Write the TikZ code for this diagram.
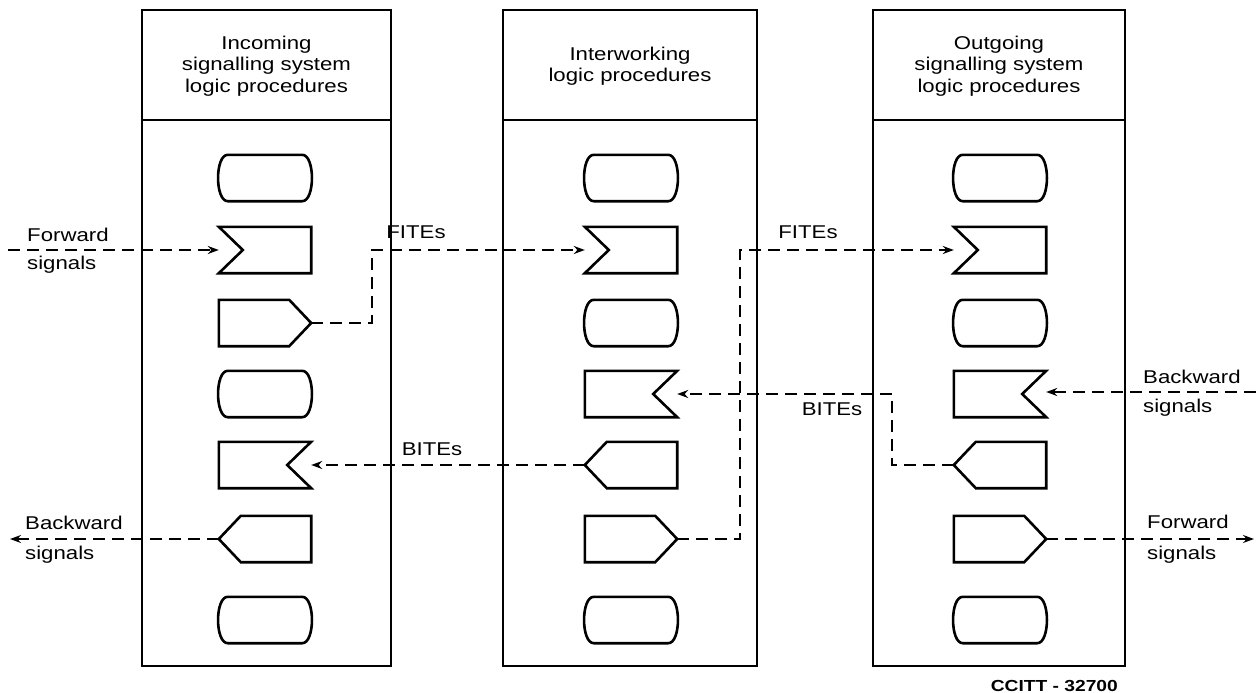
\documentclass[tikz,border=0pt]{standalone}
\usepackage{fontspec}
\newfontfamily\labfont[FakeStretch=1.2]{Liberation Sans}
\usetikzlibrary{arrows.meta}
\newcommand\termsh[1]{\draw[outline] ([xshift=9]#1.north west) -- ([xshift=-9]#1.north east) .. controls ([xshift=4]#1.north east) and ([xshift=4]#1.south east) .. ([xshift=-9]#1.south east) -- ([xshift=9]#1.south west) .. controls ([xshift=-4]#1.south west) and ([xshift=-4]#1.north west) .. cycle;}
\newcommand\rcvL[1]{\draw[outline] (#1.north west) -- (#1.north east) -- (#1.south east) -- (#1.south west) -- ([xshift=24]#1.west) -- cycle;}
\newcommand\rcvR[1]{\draw[outline] (#1.north east) -- (#1.north west) -- (#1.south west) -- (#1.south east) -- ([xshift=-24]#1.east) -- cycle;}
\newcommand\sndR[1]{\draw[outline] (#1.north west) -- ([xshift=-22]#1.north east) -- (#1.east) -- ([xshift=-22]#1.south east) -- (#1.south west) -- cycle;}
\newcommand\sndL[1]{\draw[outline] (#1.north east) -- ([xshift=22]#1.north west) -- (#1.west) -- ([xshift=22]#1.south west) -- (#1.south east) -- cycle;}
\begin{document}
\begin{tikzpicture}[x=1pt,y=-1pt,
 colbox/.style={draw, line width=1.3pt},
 sym/.style={draw=none, minimum width=92pt, minimum height=46pt, inner sep=0pt},
 outline/.style={line width=2.6pt, line join=miter},
 flow/.style={line width=1.7pt, dash pattern=on 12pt off 7pt, -{Stealth[length=11pt,width=8pt]}},
 lbl/.style={font=\fontsize{18.5}{21.5}\labfont, inner sep=0pt}]
\useasboundingbox (0,0) rectangle (1256,693);
% column boxes
\draw[colbox] (142,10) rectangle (391,666) (142,120) -- (391,120);
\draw[colbox] (503,10) rectangle (757,666) (503,120) -- (757,120);
\draw[colbox] (873,10) rectangle (1125,666) (873,120) -- (1125,120);
% headers
\node[lbl, align=center] (h1) at (266.5,66) {Incoming\\signalling system\\logic procedures};
\node[lbl, align=center] (h2) at (630,66) {Interworking\\logic procedures};
\node[lbl, align=center] (h3) at (999,66) {Outgoing\\signalling system\\logic procedures};
% symbol nodes
\foreach \c/\x in {a/265,b/631,c/1000}{
  \node[sym] (\c1) at (\x,178) {};
  \node[sym] (\c2) at (\x,250) {};
  \node[sym] (\c3) at (\x,323) {};
  \node[sym] (\c4) at (\x,394) {};
  \node[sym] (\c5) at (\x,465) {};
  \node[sym] (\c6) at (\x,539) {};
  \node[sym] (\c7) at (\x,620) {};
}
% column 1
\termsh{a1} \rcvL{a2} \sndR{a3} \termsh{a4} \rcvR{a5} \sndL{a6} \termsh{a7}
% column 2
\termsh{b1} \rcvL{b2} \termsh{b3} \rcvR{b4} \sndL{b5} \sndR{b6} \termsh{b7}
% column 3
\termsh{c1} \rcvL{c2} \termsh{c3} \rcvR{c4} \sndL{c5} \sndR{c6} \termsh{c7}
% free ends
\coordinate (fin) at (8,250);
\coordinate (bout) at (10,539);
\coordinate (bin) at (1256,392);
\coordinate (fout) at (1254,539);
\coordinate (k1) at (372,323);
\coordinate (k2) at (740,539);
\coordinate (k3) at (892,465);
% connectors
\draw[flow] (fin) -- (a2.west);
\draw[flow] (a3.east) -- (k1) |- (b2.west);
\draw[flow] (b6.east) -- (k2) |- (c2.west);
\draw[flow] (bin) -- (c4.east |- bin);
\draw[flow] (c5.west) -- (k3) |- (b4.east);
\draw[flow] (b5.west) -- (a5.east);
\draw[flow] (a6.west) -- (bout);
\draw[flow] (c6.east) -- (fout);
% labels
\node[lbl, anchor=west] (l1) at (27,235) {Forward};
\node[lbl, anchor=west] (l2) at (27,265) {signals};
\node[lbl] (l3) at (416,232) {FITEs};
\node[lbl] (l4) at (808,232) {FITEs};
\node[lbl, anchor=west] (l5) at (1143,377) {Backward};
\node[lbl, anchor=west] (l6) at (1143,408) {signals};
\node[lbl] (l7) at (832,409) {BITEs};
\node[lbl] (l8) at (432,449) {BITEs};
\node[lbl, anchor=west] (l9) at (25,523) {Backward};
\node[lbl, anchor=west] (l10) at (25,555) {signals};
\node[lbl, anchor=west] (l11) at (1147,522) {Forward};
\node[lbl, anchor=west] (l12) at (1147,555) {signals};
\node[font=\fontsize{16}{18}\labfont\bfseries, anchor=east, inner sep=0pt] (ccitt) at (1118,686) {CCITT - 32700};
\end{tikzpicture}
\end{document}
